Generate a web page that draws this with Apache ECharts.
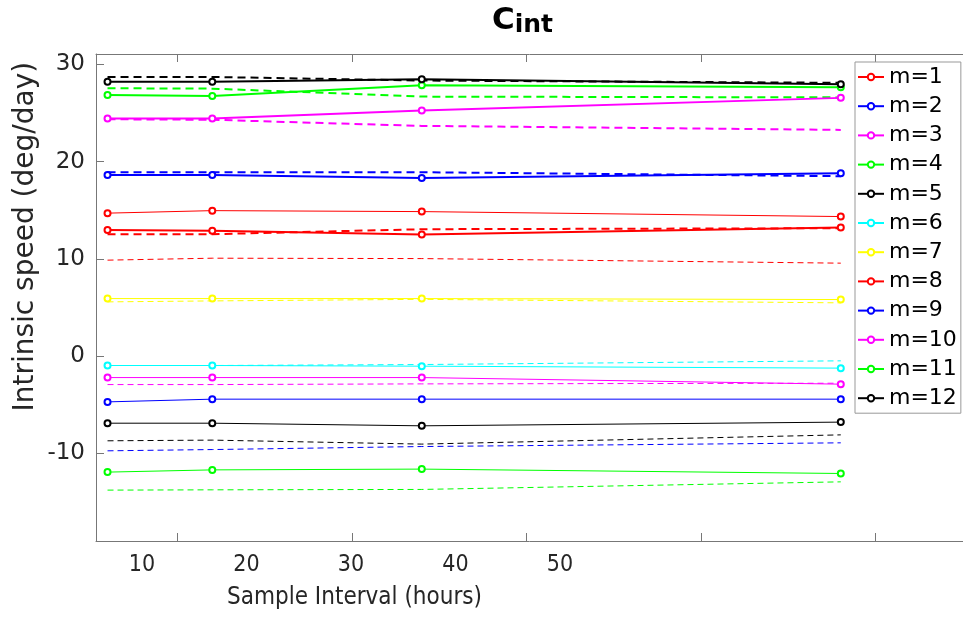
<!DOCTYPE html>
<html>
<head>
<meta charset="utf-8">
<script src="https://cdn.jsdelivr.net/npm/echarts@6/dist/echarts.min.js"></script>
<style>html,body{margin:0;padding:0;background:#fff}#c{width:963px;height:619px}</style>
</head>
<body>
<div id="c"></div>
<script>
// Sample intervals (hours)
var xVals = [6, 12, 24, 48];
var xTicks = [10, 20, 30, 40, 50];
var yTicks = [-10, 0, 10, 20, 30];
var seriesNames = ['m=1','m=2','m=3','m=4','m=5','m=6','m=7','m=8','m=9','m=10','m=11','m=12'];
var seriesColors = ['#ff0000','#0000ff','#ff00ff','#00ff00','#000000','#00ffff','#ffff00','#ff0000','#0000ff','#ff00ff','#00ff00','#000000'];
// solid lines (with markers)
var m1 = [14.70, 14.96, 14.86, 14.35];
var m2 = [-4.70, -4.42, -4.42, -4.42];
var m3 = [-2.20, -2.20, -2.20, -2.88];
var m4 = [-11.92, -11.69, -11.61, -12.06];
var m5 = [-6.89, -6.89, -7.16, -6.78];
var m6 = [-0.96, -0.96, -1.03, -1.23];
var m7 = [5.92, 5.92, 5.92, 5.82];
var m8 = [12.98, 12.90, 12.50, 13.22];
var m9 = [18.63, 18.63, 18.32, 18.80];
var m10 = [24.42, 24.42, 25.24, 26.55];
var m11 = [26.85, 26.75, 27.85, 27.65];
var m12 = [28.22, 28.22, 28.47, 27.95];
// dashed lines (no markers)
var d1 = [9.87, 10.07, 10.03, 9.56];
var d2 = [-9.73, -9.60, -9.29, -8.91];
var d3 = [-2.92, -2.92, -2.85, -2.78];
var d4 = [-13.77, -13.74, -13.70, -12.92];
var d5 = [-8.70, -8.63, -9.04, -8.09];
var d6 = [-0.96, -0.96, -0.86, -0.48];
var d7 = [5.58, 5.68, 5.84, 5.48];
var d8 = [12.54, 12.54, 13.05, 13.15];
var d9 = [18.91, 18.91, 18.91, 18.50];
var d10 = [24.35, 24.30, 23.67, 23.26];
var d11 = [27.54, 27.50, 26.68, 26.60];
var d12 = [28.70, 28.70, 28.33, 28.10];

var solid = [m1,m2,m3,m4,m5,m6,m7,m8,m9,m10,m11,m12];
var dashed = [d1,d2,d3,d4,d5,d6,d7,d8,d9,d10,d11,d12];

function pairs(ys){ return xVals.map(function(x,i){ return [x, ys[i]]; }); }

var series = [];
dashed.forEach(function(d, i){
  var thick = i >= 7;
  series.push({
    name: seriesNames[i] + ' (dashed)', type: 'line', data: pairs(d),
    xAxisIndex: 0, yAxisIndex: 0, showSymbol: false, symbol: 'none',
    lineStyle: {color: seriesColors[i], width: thick ? 2 : 1, type: thick ? [8,5] : [6,4]},
    itemStyle: {color: seriesColors[i]}, z: 2, silent: true
  });
});
solid.forEach(function(d, i){
  var thick = i >= 7;
  series.push({
    name: seriesNames[i], type: 'line', data: pairs(d),
    xAxisIndex: 0, yAxisIndex: 0, symbol: 'emptyCircle', symbolSize: 6,
    lineStyle: {color: seriesColors[i], width: thick ? 2 : 1},
    itemStyle: {color: seriesColors[i], borderColor: seriesColors[i], borderWidth: 1},
    z: 3
  });
});

var axisCol = '#777';
var txtCol = '#262626';
var chart = echarts.init(document.getElementById('c'), null, {renderer: 'canvas'});
chart.setOption({
  animation: false,
  backgroundColor: '#fff',
  title: {
    text: '{c|C}{s|int}',
    left: 487, top: 2,
    textStyle: {
      rich: {
        c: {fontFamily: 'DejaVu Sans', fontWeight: 'bold', fontSize: 31, lineHeight: 31, color: '#000', verticalAlign: 'bottom', padding: [0,0,2,0]},
        s: {fontFamily: 'DejaVu Sans', fontWeight: 'bold', fontSize: 25, lineHeight: 25, color: '#000', verticalAlign: 'bottom'}
      }
    }
  },
  grid: {left: 96, right: -2, top: 54, bottom: 78, containLabel: false},
  xAxis: [
    {type: 'value', position: 'bottom', min: 5.34, max: 55,
     axisLine: {show: true, onZero: false, lineStyle: {color: axisCol, width: 1}},
     axisTick: {show: true, inside: true, length: 8, customValues: xTicks, lineStyle: {color: axisCol}},
     axisLabel: {show: false}, splitLine: {show: false}},
    {type: 'value', position: 'top', min: 5.34, max: 55,
     axisLine: {show: true, onZero: false, lineStyle: {color: axisCol, width: 1}},
     axisTick: {show: true, inside: true, length: 8, customValues: xTicks, lineStyle: {color: axisCol}},
     axisLabel: {show: false}, splitLine: {show: false}},
    {type: 'value', position: 'bottom', min: 5.61, max: 88.57,
     axisLine: {show: false, onZero: false}, axisTick: {show: false}, splitLine: {show: false},
     axisLabel: {show: true, customValues: xTicks, margin: 13, color: txtCol, fontSize: 23,
       fontFamily: '"Liberation Sans Narrow", "DejaVu Sans Condensed", sans-serif'}}
  ],
  yAxis: [
    {type: 'value', min: -19, max: 31.06,
     axisLine: {show: true, onZero: false, lineStyle: {color: axisCol, width: 1}},
     axisTick: {show: true, inside: true, length: 8, customValues: yTicks, lineStyle: {color: axisCol}},
     axisLabel: {show: true, customValues: yTicks, margin: 11, color: txtCol, fontSize: 23, fontFamily: 'DejaVu Sans'},
     splitLine: {show: false}}
  ],
  legend: {
    data: seriesNames, orient: 'vertical', left: 855, top: 62,
    padding: [2, 4, 2, 2], itemWidth: 26, itemHeight: 8, itemGap: 3.2,
    borderColor: '#999', borderWidth: 1, borderRadius: 0, backgroundColor: '#fff',
    textStyle: {fontSize: 22, lineHeight: 26, fontFamily: 'DejaVu Sans', color: '#000'},
    selectedMode: false
  },
  graphic: [
    {type: 'text', x: 25.5, y: 236.7, rotation: Math.PI / 2, z: 10,
     style: {text: 'Intrinsic speed (deg/day)', fill: txtCol, font: '28px "DejaVu Sans"',
       textAlign: 'center', textVerticalAlign: 'middle', align: 'center', verticalAlign: 'middle'}},
    {type: 'text', x: 354.5, y: 598, z: 10,
     style: {text: 'Sample Interval (hours)', fill: txtCol, font: '24px "Liberation Sans Narrow", "DejaVu Sans Condensed", sans-serif',
       textAlign: 'center', textVerticalAlign: 'middle', align: 'center', verticalAlign: 'middle'}}
  ],
  series: series
});
</script>
</body>
</html>
